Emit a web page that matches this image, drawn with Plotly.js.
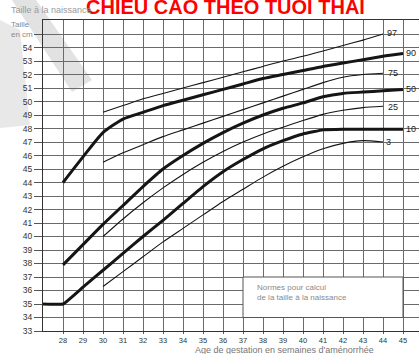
<!DOCTYPE html>
<html>
<head>
<meta charset="utf-8">
<script src="https://cdn.plot.ly/plotly-3.0.1.min.js"></script>
<style>
  html, body { margin: 0; padding: 0; background: #fff; }
  #chart { width: 419px; height: 354px; }
</style>
</head>
<body>
<div id="chart"></div>
<script>
// Gestational age (weeks of amenorrhoea)
const weeksThick = [27, 28, 29, 30, 31, 32, 33, 34, 35, 36, 37, 38, 39, 40, 41, 42, 43, 44, 45];
const weeksThin  = [30, 31, 32, 33, 34, 35, 36, 37, 38, 39, 40, 41, 42, 43, 44];

// Length at birth percentiles (cm)
const p90 = [null, 44.0, 45.9, 47.7, 48.7, 49.2, 49.7, 50.1, 50.5, 50.9, 51.3, 51.7, 52.0, 52.3, 52.6, 52.85, 53.1, 53.35, 53.55];
const p50 = [null, 37.9, 39.4, 40.9, 42.3, 43.7, 45.0, 46.0, 46.9, 47.7, 48.4, 49.0, 49.5, 49.9, 50.35, 50.6, 50.7, 50.8, 50.9];
const p10 = [35.0, 35.0, 36.25, 37.5, 38.75, 40.0, 41.2, 42.45, 43.7, 44.8, 45.7, 46.5, 47.1, 47.6, 47.9, 47.95, 47.95, 47.95, 47.95];

const p97 = [49.2, 49.7, 50.2, 50.6, 51.0, 51.4, 51.8, 52.2, 52.6, 53.0, 53.35, 53.75, 54.15, 54.55, 55.0];
const p75 = [45.5, 46.2, 46.8, 47.4, 47.9, 48.4, 48.9, 49.4, 49.9, 50.4, 50.9, 51.4, 51.8, 52.0, 52.1];
const p25 = [40.0, 41.3, 42.5, 43.6, 44.6, 45.5, 46.3, 47.0, 47.6, 48.1, 48.6, 49.05, 49.35, 49.55, 49.65];
const p3  = [36.3, 37.4, 38.5, 39.6, 40.6, 41.6, 42.6, 43.5, 44.4, 45.2, 45.9, 46.5, 46.9, 47.1, 47.0];

const xTicks = [28, 29, 30, 31, 32, 33, 34, 35, 36, 37, 38, 39, 40, 41, 42, 43, 44, 45];
const yTicks = [33, 34, 35, 36, 37, 38, 39, 40, 41, 42, 43, 44, 45, 46, 47, 48, 49, 50, 51, 52, 53, 54, 55];
const yTickText = yTicks.map(v => v === 55 ? '' : String(v));

const ink = '#151515';

function curve(x, y, width, smooth) {
  return {
    x: x, y: y, type: 'scatter', mode: 'lines',
    connectgaps: false,
    line: { color: ink, width: width, shape: 'spline', smoothing: smooth },
    hoverinfo: 'skip', showlegend: false
  };
}

const traces = [
  curve(weeksThin, p97, 1.1, 0.6),
  curve(weeksThick, p90, 3, 0.6),
  curve(weeksThin, p75, 1.1, 0.6),
  curve(weeksThick, p50, 3, 0.6),
  curve(weeksThin, p25, 1.1, 0.6),
  curve(weeksThick, p10, 3, 0.3),
  curve(weeksThin, p3, 1.1, 0.6)
];

// pixel helpers for the paper-referenced decorations
const L = 43, T = 20, W = 376, H = 311;
const px = v => (v - L) / W;
const py = v => (T + H - v) / H;
function poly(pts) {
  return 'M ' + pts.map(p => px(p[0]).toFixed(4) + ' ' + py(p[1]).toFixed(4)).join(' L ') + ' Z';
}

const labelFont = { family: 'Liberation Sans, Arial, sans-serif', size: 9, color: '#1a1a1a' };
const faint = { family: 'Liberation Sans, Arial, sans-serif', size: 8, color: '#8a8a8a' };

const curveLabels = [
  ['97', 44.45, 55.05], ['90', 45.4, 53.6], ['75', 44.5, 52.1], ['50', 45.4, 50.9],
  ['25', 44.5, 49.6], ['10', 45.4, 48.0], ['3', 44.25, 47.0]
].map(([t, x, y]) => ({
  text: t, x: x, y: y, xref: 'x', yref: 'y', showarrow: false,
  xanchor: 'center', yanchor: 'middle', font: labelFont
}));

const layout = {
  width: 419, height: 354,
  margin: { l: L, r: 0, t: T, b: 354 - T - H },
  paper_bgcolor: '#ffffff',
  plot_bgcolor: 'rgba(0,0,0,0)',
  showlegend: false,
  xaxis: {
    range: [27, 45.8], tickvals: xTicks, ticks: 'outside', ticklen: 2,
    tickcolor: '#555', showgrid: true, gridcolor: '#6a6a6a', gridwidth: 1,
    zeroline: false, showline: true, linecolor: '#333', linewidth: 1, mirror: true,
    tickfont: { family: 'Liberation Sans, Arial, sans-serif', size: 7.5, color: '#333' },
    fixedrange: true
  },
  yaxis: {
    range: [33, 56.04], tickvals: yTicks, ticktext: yTickText, ticks: 'outside', ticklen: 8,
    tickcolor: '#555', showgrid: true, gridcolor: '#6a6a6a', gridwidth: 1,
    zeroline: false, showline: true, linecolor: '#333', linewidth: 1, mirror: false,
    tickfont: { family: 'Liberation Sans, Arial, sans-serif', size: 8.5, color: '#333' },
    fixedrange: true
  },
  shapes: [
    // faint scanner stroke in the upper left corner
    { type: 'path', xref: 'paper', yref: 'paper', layer: 'below',
      path: poly([[12, 0], [36, 0], [92, 80], [72, 92]]),
      fillcolor: 'rgba(190,190,190,0.45)', line: { width: 0 } },
    { type: 'path', xref: 'paper', yref: 'paper', layer: 'below',
      path: poly([[0, 20], [20, 30], [30, 125], [0, 128]]),
      fillcolor: 'rgba(190,190,190,0.35)', line: { width: 0 } },
    // note box
    { type: 'rect', xref: 'x', yref: 'y', x0: 37, x1: 45, y0: 34, y1: 37,
      fillcolor: '#ffffff', line: { color: '#555', width: 1 }, layer: 'above' }
  ],
  annotations: [
    { text: '<b>CHIỀU CAO THEO TUỔI THAI</b>', xref: 'paper', yref: 'paper',
      x: px(225), y: py(6), xanchor: 'center', yanchor: 'middle', showarrow: false,
      font: { family: 'Liberation Sans, Arial, sans-serif', size: 20, color: '#ff0000' } },
    { text: 'Taille à la naissance', xref: 'paper', yref: 'paper',
      x: px(9), y: py(10), xanchor: 'left', yanchor: 'middle', showarrow: false,
      font: { family: 'Liberation Sans, Arial, sans-serif', size: 9, color: '#9a9a9a' } },
    { text: 'Taille<br>en cm', xref: 'paper', yref: 'paper', align: 'left',
      x: px(9), y: py(29), xanchor: 'left', yanchor: 'middle', showarrow: false,
      font: { family: 'Liberation Sans, Arial, sans-serif', size: 8, color: '#8a8a8a' } },
    { text: 'Age de gestation en semaines d\'aménorrhée', xref: 'paper', yref: 'paper',
      x: px(193), y: py(350), xanchor: 'left', yanchor: 'middle', showarrow: false,
      font: { family: 'Liberation Sans, Arial, sans-serif', size: 9, color: '#777' } },
    { text: 'Normes pour calcul', xref: 'x', yref: 'y', x: 37.6, y: 36.2,
      xanchor: 'left', yanchor: 'middle', showarrow: false, font: faint },
    { text: 'de la taille à la naissance', xref: 'x', yref: 'y', x: 37.6, y: 35.45,
      xanchor: 'left', yanchor: 'middle', showarrow: false, font: faint }
  ].concat(curveLabels)
};

Plotly.newPlot('chart', traces, layout, { staticPlot: true, displayModeBar: false });
</script>
</body>
</html>
